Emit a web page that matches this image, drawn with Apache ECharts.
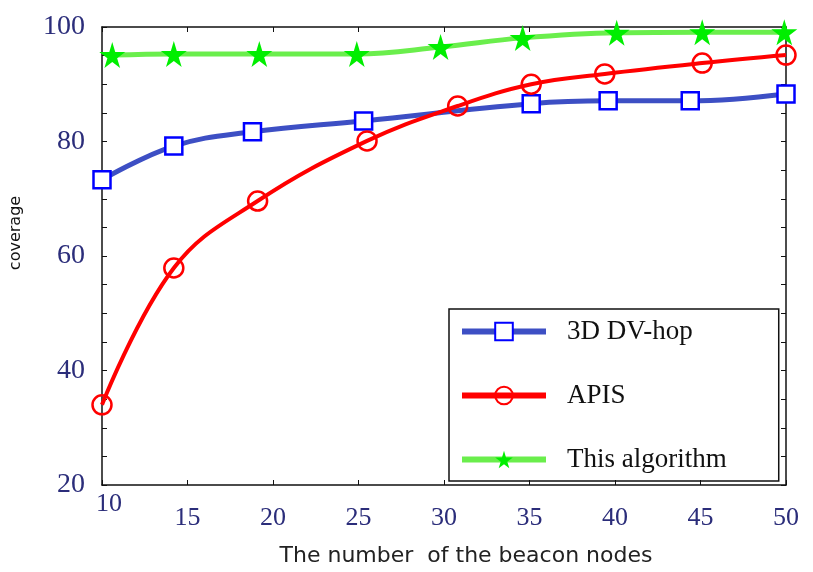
<!DOCTYPE html>
<html>
<head>
<meta charset="utf-8">
<script src="https://cdn.jsdelivr.net/npm/echarts@6/dist/echarts.min.js"></script>
<style>
  html, body { margin: 0; padding: 0; background: #fff; }
  #main { width: 813px; height: 572px; }
</style>
</head>
<body>
<div id="main"></div>
<script>
// values
var dvhopX = [10, 14.2, 18.8, 25.3, 35.1, 39.6, 44.4, 50];
var dvhopY = [73.3, 79.2, 81.7, 83.6, 86.6, 87.1, 87.1, 88.3];

var apisX = [10, 14.2, 19.1, 25.5, 30.8, 35.1, 39.4, 45.1, 50];
var apisY = [34.0, 57.9, 69.6, 80.1, 86.2, 90.0, 91.8, 93.7, 95.1];

var oursX = [10.6, 14.2, 19.2, 24.9, 29.8, 34.6, 40.1, 45.1, 49.9];
var oursY = [95.1, 95.3, 95.3, 95.3, 96.5, 98.1, 99.0, 99.1, 99.1];

var seriesNames = ['3D DV-hop', 'APIS', 'This algorithm'];

var STAR = 'path://M50,0 L61,35 L98,35 L68,57 L79,91 L50,70 L21,91 L32,57 L2,35 L39,35 Z';

function pairs(xs, ys) {
  var out = [];
  for (var i = 0; i < xs.length; i++) out.push([xs[i], ys[i]]);
  return out;
}

var labelColor = '#2b2d7a';
var chart = echarts.init(document.getElementById('main'));

var options = {
  animation: false,
  backgroundColor: '#fff',
  grid: { left: 100, right: 27, top: 27, bottom: 87 },
  legend: {
    orient: 'vertical',
    left: 449,
    top: 309,
    padding: [9, 52, 8, 10],
    itemGap: 37,
    itemWidth: 84,
    itemHeight: 22,
    borderColor: '#111',
    borderWidth: 1.5,
    borderRadius: 0,
    lineStyle: { width: 6 },
    data: seriesNames,
    textStyle: {
      fontFamily: 'Liberation Serif',
      fontSize: 27,
      lineHeight: 22,
      color: '#111',
      padding: [0, 0, 0, 16]
    }
  },
  xAxis: [{
    type: 'value',
    min: 10,
    max: 50,
    interval: 5,
    name: 'The number  of the beacon nodes',
    nameLocation: 'middle',
    nameGap: 60,
    nameTextStyle: { fontFamily: 'DejaVu Sans', fontSize: 22, color: '#222', padding: [0, 0, 0, 44] },
    axisLine: { lineStyle: { color: '#111', width: 1.5 } },
    axisTick: { inside: true, length: 5, lineStyle: { color: '#111' } },
    splitLine: { show: false },
    axisLabel: {
      margin: 6,
      fontFamily: 'Liberation Serif',
      fontSize: 26,
      color: labelColor,
      formatter: function (v) { return v === 10 ? '{a|10}' : '{b|' + v + '}'; },
      rich: {
        a: { fontFamily: 'Liberation Serif', fontSize: 26, color: labelColor, padding: [0, 0, 0, 14] },
        b: { fontFamily: 'Liberation Serif', fontSize: 26, color: labelColor, padding: [14, 0, 0, 0] }
      }
    }
  }, {
    type: 'value',
    position: 'top',
    min: 10,
    max: 50,
    interval: 5,
    axisLine: { show: true, lineStyle: { color: '#111', width: 1.5 } },
    axisTick: { show: true, inside: true, length: 5, lineStyle: { color: '#111' } },
    axisLabel: { show: false },
    splitLine: { show: false }
  }],
  yAxis: [{
    type: 'value',
    min: 20,
    max: 100,
    interval: 20,
    name: 'coverage',
    nameLocation: 'middle',
    nameGap: 78,
    nameTextStyle: { fontFamily: 'DejaVu Sans', fontSize: 16, color: '#111', padding: [0, 0, 0, 46] },
    axisLine: { show: true, lineStyle: { color: '#111', width: 1.5 } },
    axisTick: { show: true, inside: true, length: 5, lineStyle: { color: '#111' } },
    minorTick: { show: true, splitNumber: 4, length: 5, lineStyle: { color: '#111' } },
    splitLine: { show: false },
    axisLabel: {
      margin: 17,
      fontFamily: 'Liberation Serif',
      fontSize: 28,
      color: labelColor
    }
  }, {
    type: 'value',
    position: 'right',
    min: 20,
    max: 100,
    interval: 20,
    axisLine: { show: true, lineStyle: { color: '#111', width: 1.5 } },
    axisTick: { show: true, inside: true, length: 5, lineStyle: { color: '#111' } },
    minorTick: { show: true, splitNumber: 4, length: 5, lineStyle: { color: '#111' } },
    axisLabel: { show: false },
    splitLine: { show: false }
  }],
  series: [{
    name: seriesNames[0],
    type: 'line',
    smooth: 0.4,
    data: pairs(dvhopX, dvhopY),
    symbol: 'rect',
    symbolSize: 17,
    lineStyle: { color: '#3d4fc4', width: 5 },
    itemStyle: { color: '#fff', borderColor: '#0000ff', borderWidth: 2.5 },
    z: 3
  }, {
    name: seriesNames[1],
    type: 'line',
    smooth: 0.4,
    data: pairs(apisX, apisY),
    symbol: 'circle',
    symbolSize: 19,
    lineStyle: { color: '#ff0000', width: 4 },
    itemStyle: { color: 'rgba(255,255,255,0)', borderColor: '#ff0000', borderWidth: 2.5 },
    z: 4
  }, {
    name: seriesNames[2],
    type: 'line',
    smooth: 0.4,
    data: pairs(oursX, oursY),
    symbol: STAR,
    symbolSize: 26,
    lineStyle: { color: '#6aee4c', width: 5 },
    itemStyle: { color: '#00ee00', borderColor: '#00ee00', borderWidth: 0 },
    z: 5
  }]
};

chart.setOption(options);
</script>
</body>
</html>
